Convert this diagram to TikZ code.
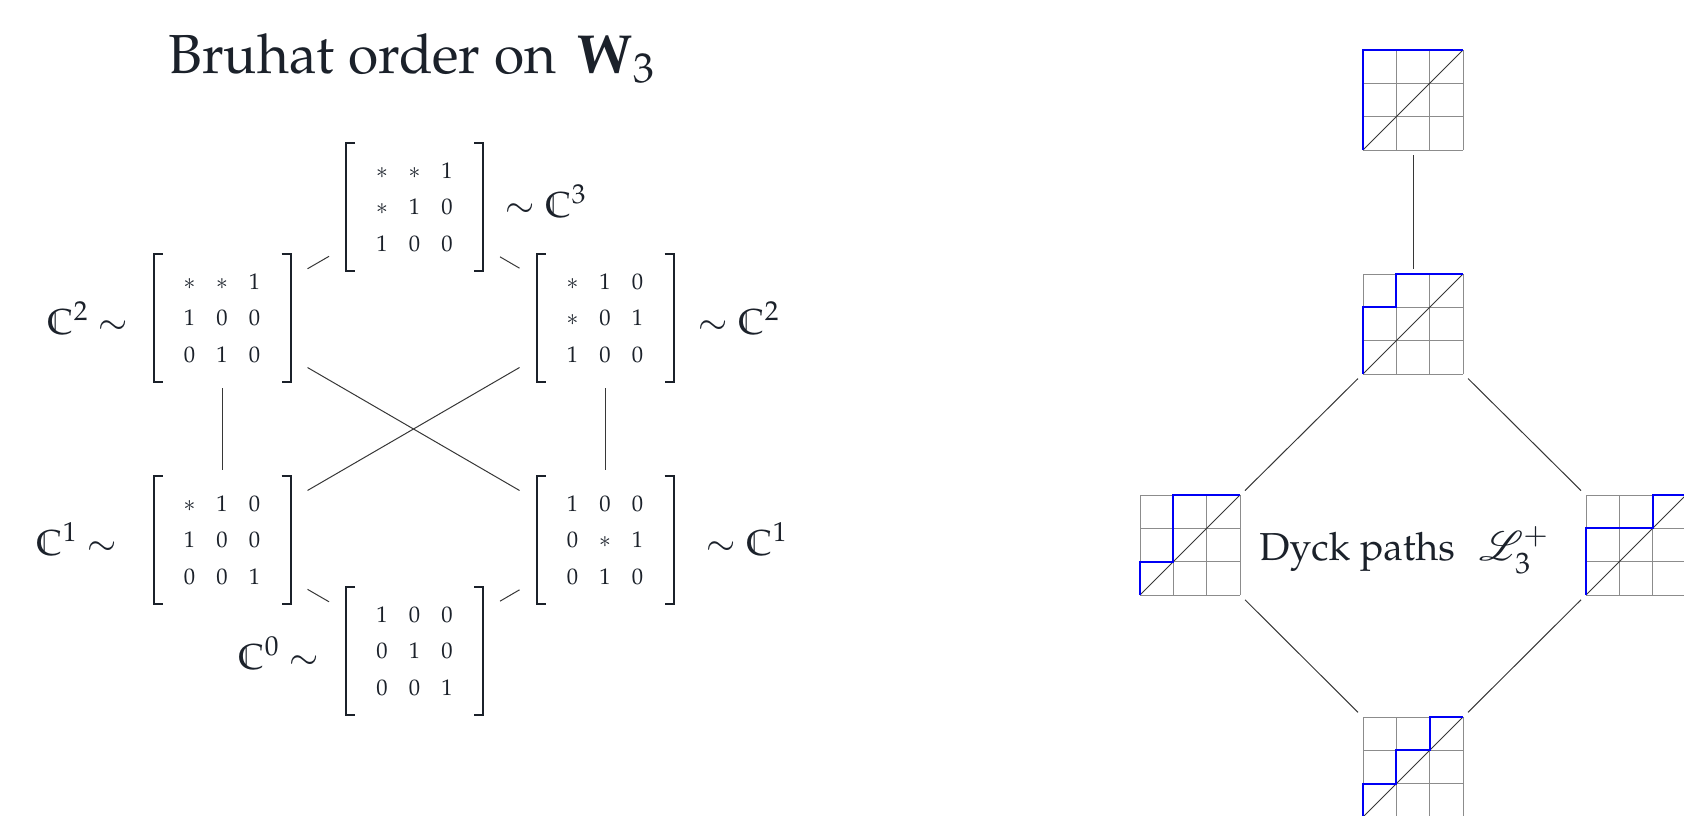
\documentclass[tikz,border=0pt]{standalone}
\usepackage[T1]{fontenc}
\usepackage{mathpazo}
\usepackage{mathrsfs}
\usetikzlibrary{calc}

\definecolor{ink}{RGB}{27,33,42}
\definecolor{edgegray}{RGB}{55,55,55}
\definecolor{gridgray}{RGB}{140,140,140}
\definecolor{pathblue}{RGB}{0,0,245}

% one cell of a 3x3 permutation pattern
\newcommand\cellbox[1]{\makebox[16.25pt]{$#1$}}
% the three rows of a pattern, fixed column and row pitch
\newcommand\permrows[9]{\vbox{\baselineskip=18.25pt\lineskiplimit=-100pt
  \hbox{\cellbox{#1}\cellbox{#2}\cellbox{#3}}
  \hbox{\cellbox{#4}\cellbox{#5}\cellbox{#6}}
  \hbox{\cellbox{#7}\cellbox{#8}\cellbox{#9}}}}

\tikzset{
  permbox/.style={minimum width=85.5pt, minimum height=70pt, inner sep=0pt,
    outer sep=0pt, text=ink, font=\fontsize{11.3}{13}\selectfont},
  bracket/.style={draw=ink, line width=1pt},
  conn/.style={draw=edgegray, line width=0.5pt},
  celllabel/.style={inner sep=0pt, text=ink, font=\fontsize{18}{22}\selectfont},
  dyckbox/.style={minimum size=55pt, inner sep=0pt, outer sep=0pt},
  gridline/.style={draw=gridgray, line width=0.5pt},
  diagline/.style={draw=edgegray, line width=0.4pt},
  dyckline/.style={draw=pathblue, line width=1pt},
  pics/dyckgrid/.style={code={
    \begin{scope}[shift={(-25pt,-25pt)}, x=16.6667pt, y=16.6667pt]
      \draw[gridline, step=1] (0,0) grid (3,3);
      \draw[diagline] (0,0) -- (3,3);
      \draw[dyckline] (0,0) #1;
    \end{scope}}}
}

\begin{document}
\begin{tikzpicture}[x=0.5pt, y=-0.5pt]
\useasboundingbox (0,0) rectangle (1684,815);
\clip (0,0) rectangle (1684,815);

% ---------- Bruhat order on W_3 ----------
\node[anchor=base, inner sep=0pt, text=ink, font=\fontsize{27.5}{33}\selectfont]
  (title) at (412,73) {Bruhat order on\hspace{0.12em} $\mathbf{W}_3$};

\node[permbox] (m3)  at (414.5,207) {\permrows{\ast}{\ast}{1}{\ast}{1}{0}{1}{0}{0}};
\node[permbox] (m2l) at (222,318)   {\permrows{\ast}{\ast}{1}{1}{0}{0}{0}{1}{0}};
\node[permbox] (m2r) at (605,318)   {\permrows{\ast}{1}{0}{\ast}{0}{1}{1}{0}{0}};
\node[permbox] (m1l) at (222,540)   {\permrows{\ast}{1}{0}{1}{0}{0}{0}{0}{1}};
\node[permbox] (m1r) at (605,540)   {\permrows{1}{0}{0}{0}{\ast}{1}{0}{1}{0}};
\node[permbox] (m0)  at (414.5,651) {\permrows{1}{0}{0}{0}{1}{0}{0}{0}{1}};

\foreach \n in {m3,m2l,m2r,m1l,m1r,m0} {
  \draw[bracket] ([xshift=13pt,yshift=-3pt]\n.north west)
    -| ([xshift=8.5pt,yshift=3pt]\n.south west) -- ++(4.5pt,0pt);
  \draw[bracket] ([xshift=-13pt,yshift=-3pt]\n.north east)
    -| ([xshift=-8.5pt,yshift=3pt]\n.south east) -- ++(-4.5pt,0pt);
}

\draw[conn] (m3) -- (m2l);
\draw[conn] (m3) -- (m2r);
\draw[conn] (m2l) -- (m1l);
\draw[conn] (m2r) -- (m1r);
\draw[conn] (m2l) -- (m1r);
\draw[conn] (m2r) -- (m1l);
\draw[conn] (m1l) -- (m0);
\draw[conn] (m1r) -- (m0);

\node[celllabel, anchor=base west] (c3)  at (505,217) {$\sim\mathbb{C}^3$};
\node[celllabel, anchor=base east] (c2l) at (129,334) {$\mathbb{C}^2\sim$};
\node[celllabel, anchor=base west] (c2r) at (698,334) {$\sim\mathbb{C}^2$};
\node[celllabel, anchor=base east] (c1l) at (118,555) {$\mathbb{C}^1\sim$};
\node[celllabel, anchor=base west] (c1r) at (706,555) {$\sim\mathbb{C}^1$};
\node[celllabel, anchor=base east] (c0)  at (320,669) {$\mathbb{C}^0\sim$};

% ---------- Dyck paths ----------
\node[dyckbox] (d4)  at (1413,100) {};
\node[dyckbox] (d3)  at (1413,324) {};
\node[dyckbox] (d2l) at (1190,545) {};
\node[dyckbox] (d2r) at (1636,545) {};
\node[dyckbox] (d0)  at (1413,767) {};

\pic at (d4)  {dyckgrid={-- ++(0,3) -- ++(3,0)}};
\pic at (d3)  {dyckgrid={-- ++(0,2) -- ++(1,0) -- ++(0,1) -- ++(2,0)}};
\pic at (d2l) {dyckgrid={-- ++(0,1) -- ++(1,0) -- ++(0,2) -- ++(2,0)}};
\pic at (d2r) {dyckgrid={-- ++(0,2) -- ++(2,0) -- ++(0,1) -- ++(1,0)}};
\pic at (d0)  {dyckgrid={-- ++(0,1) -- ++(1,0) -- ++(0,1) -- ++(1,0) -- ++(0,1) -- ++(1,0)}};

\draw[conn] (d4) -- (d3);
\draw[conn] (d3) -- (d2l);
\draw[conn] (d3) -- (d2r);
\draw[conn] (d2l) -- (d0);
\draw[conn] (d2r) -- (d0);

\node[anchor=base west, inner sep=0pt, text=ink, font=\fontsize{19.5}{24}\selectfont]
  (dycklabel) at (1259,560) {Dyck paths\hspace{0.62em}$\mathscr{L}_3^+$};
\end{tikzpicture}
\end{document}
